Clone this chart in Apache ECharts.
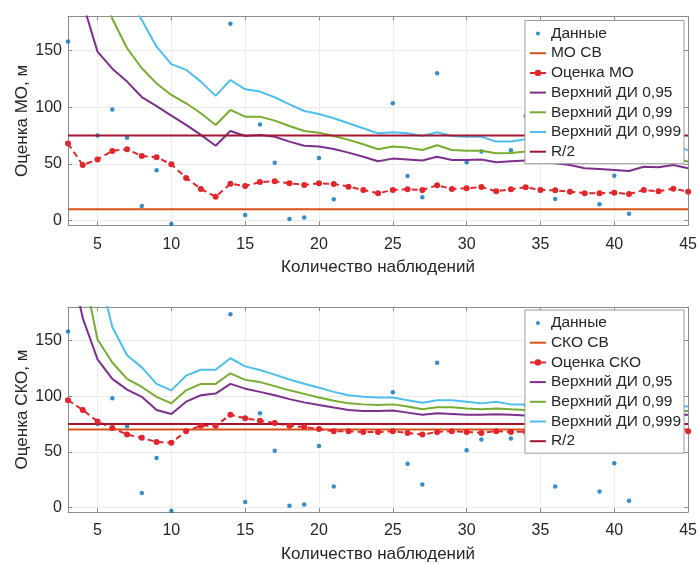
<!DOCTYPE html>
<html>
<head>
<meta charset="utf-8">
<script src="https://cdn.jsdelivr.net/npm/echarts@6/dist/echarts.min.js"></script>
<style>
  html, body { margin: 0; padding: 0; background: #fff; }
  #chart { width: 700px; height: 564px; }
</style>
</head>
<body>
<div id="chart"></div>
<script>
// number of observations (x)
const nObs = [3, 4, 5, 6, 7, 8, 9, 10, 11, 12, 13, 14, 15, 16, 17, 18, 19, 20, 21, 22, 23, 24,
  25, 26, 27, 28, 29, 30, 31, 32, 33, 34, 35, 36, 37, 38, 39, 40, 41, 42, 43, 44, 45];

// raw data points
const dataX = [3, 5, 6, 7, 8, 9, 10, 14, 15, 16, 17, 18, 19, 20, 21, 25, 26, 27, 28, 30, 31, 33, 34, 36, 39, 40, 41];
const dataY = [158, 75, 98, 73, 13, 44.4, -3, 173.5, 5, 84.7, 51, 1.5, 2.7, 55.3, 18.9, 103.5, 39.4, 20.6, 130,
  51.5, 61, 62, 92, 19, 14.4, 39.7, 6.2];

// constants
const moTrue = 10;
const skoTrue = 70;
const halfR = 75;

// top chart: mean estimate and upper confidence bounds
const moEst = [68, 49, 54, 61.5, 63, 57, 56, 49.7, 37.7, 28, 21, 32.6,
  30.6, 34, 34.7, 33, 31.5, 33, 32.4, 30, 27, 24.2, 27, 27.7, 27, 31.2, 28, 28.6,
  29.7, 25.9, 27.7, 29.4, 27, 26.8, 25.6, 24.2, 24.2, 24.7, 23.5, 27, 25.9, 28.2, 25.6];
const moCi95 = [250, 192, 149, 134, 122.6, 109, 101, 92.6, 84.4, 75.6, 66, 79,
  74.7, 75.6, 74, 69.7, 66, 65.3, 63.2, 60, 56.4, 52.4, 54.7, 54, 53, 56.4, 53.5, 53.5,
  54, 51.5, 52.4, 53, 52, 50.6, 49, 46.2, 45.6, 44.7, 43.8, 47.6, 47, 49, 46.2];
const moCi99 = [330, 270, 215, 178, 152, 134.4, 121, 110.8, 103.5, 94.7, 84.4, 97.6,
  91.7, 91.7, 88.2, 83.5, 79, 77.6, 74.7, 71.2, 67.4, 63, 65.3, 64.4, 62.3, 66.5, 62.3, 61.7,
  61.7, 59.4, 59.6, 60.9, 60, 58.6, 57, 54.2, 53.6, 52.7, 51, 55, 54.5, 56, 52];
const moCi999 = [420, 330, 260, 220, 196, 177, 153.4, 138, 133, 122.6, 110, 124,
  115.8, 113.8, 108.8, 102.6, 96.7, 94, 90.3, 85.9, 81.5, 77, 78, 77, 74.7, 78, 74.7, 74,
  74, 69.7, 69.7, 71.8, 70.5, 69, 67.5, 64.5, 64, 63, 62, 65.5, 65, 66.5, 62];

// bottom chart: std estimate and upper confidence bounds
const skoEst = [96.4, 87.6, 77.3, 71.4, 65.5, 62.6, 58.8, 58.2, 68.5, 73.5, 73.5, 83.2,
  80.2, 77.9, 75.8, 73.5, 72.3, 70.5, 68.5, 68.5, 67.9, 67.9, 68.5, 67, 65.5, 67.9, 68.5, 67.9,
  67, 68.5, 67.9, 68, 68.5, 68, 67.5, 67, 67.5, 68, 67.5, 68, 68.5, 68, 68.5];
const skoCi95 = [230, 170, 133, 115.5, 105.8, 99.4, 87.6, 84, 95, 100.8, 102.3, 111,
  106.7, 103.8, 100.8, 97.3, 94.4, 92, 89.7, 87.6, 86.7, 86.7, 87, 85.2, 83.2, 84.7, 84, 83.2,
  83.2, 83.8, 83.2, 82.6, 83, 83.5, 83, 82.5, 82.8, 83, 82.5, 83, 83.5, 83, 83.2];
const skoCi99 = [300, 215, 150.8, 130.2, 115.5, 108.2, 99.4, 93.5, 105.2, 111, 111, 120.5,
  114.6, 112.6, 109, 105.2, 102, 98.8, 95.8, 93.5, 92.6, 92, 92.6, 90.6, 88.2, 90, 90, 89,
  88.2, 89, 88.2, 87.6, 88, 88.3, 87.8, 87.2, 87.5, 87.5, 87, 87.5, 87.8, 87.2, 86.7];
const skoCi999 = [420, 290, 216, 162, 136.7, 125.8, 111, 105.2, 118.4, 123.7, 123.7, 134,
  126.7, 123.5, 119.3, 114.9, 111.1, 107.6, 103.8, 100.8, 99.4, 98.8, 98.8, 96.4, 94, 96.4, 96.4, 95,
  93.5, 95, 92.6, 92.6, 92.5, 93, 92.5, 91.8, 92, 92, 91.5, 92, 92, 91.2, 90.6];

const yTicks = [0, 50, 100, 150];

const txt = '#262626';
const axisCol = '#8c8c8c';
const gridCol = '#ececec';
const font = 'Liberation Sans';

const cData = '#0072BD', cTrue = '#D95319', cEst = '#E3262B',
  c95 = '#7E2F8E', c99 = '#77AC30', c999 = '#4DBEEE', cR = '#A2142F';

// legend icons: tiny dot and plain line (bounding box kept by the two moveTo points)
const dotIcon = 'path://M0,0M16,8M6,4a2,2 0 1,0 4,0a2,2 0 1,0 -4,0';
const lineIcon = 'path://M0,0M16,8M0,3L16,3L16,5L0,5Z';

const pair = (xs, ys) => xs.map((x, i) => [x, ys[i]]);
const xEnds = [nObs[0], nObs[nObs.length - 1]];

function xAx(gi, pos, withLabels) {
  return {
    type: 'value', gridIndex: gi, position: pos, min: 3, max: 45,
    minInterval: 5, maxInterval: 5,
    name: withLabels ? 'Количество наблюдений' : '',
    nameLocation: 'middle', nameGap: 34, nameMoveOverlap: false,
    nameTextStyle: { fontSize: 17, color: txt, fontFamily: font },
    axisLine: { show: true, onZero: false, lineStyle: { color: axisCol, width: 1 } },
    axisTick: { show: true, inside: true, length: 4, lineStyle: { color: axisCol } },
    axisLabel: { show: withLabels, fontSize: 16, color: txt, fontFamily: font, margin: 11, showMinLabel: false },
    splitLine: { show: withLabels, lineStyle: { color: gridCol } }
  };
}

function yAx(gi, pos, title) {
  return {
    type: 'value', gridIndex: gi, position: pos, min: -4, max: 180,
    minInterval: 50, maxInterval: 50,
    name: title || '', nameLocation: 'middle', nameGap: 37, nameMoveOverlap: false,
    nameTextStyle: { fontSize: 17, color: txt, fontFamily: font },
    axisLine: { show: true, onZero: false, lineStyle: { color: axisCol, width: 1 } },
    axisTick: { show: true, inside: true, length: 4, lineStyle: { color: axisCol } },
    axisLabel: {
      show: !!title, fontSize: 16, color: txt, fontFamily: font, margin: 6,
      showMinLabel: false, showMaxLabel: false,
      formatter: v => (yTicks.indexOf(v) >= 0 ? String(v) : '')
    },
    splitLine: { show: !!title, lineStyle: { color: gridCol } }
  };
}

function lineSeries(name, gi, color, data, extra) {
  return Object.assign({
    name: name, type: 'line', xAxisIndex: gi * 2, yAxisIndex: gi * 2,
    data: data, symbol: 'none', lineStyle: { color: color, width: 2 },
    itemStyle: { color: color }, animation: false, clip: true
  }, extra || {});
}

function panel(gi, trueName, trueVal, estName, est, ci95, ci99, ci999) {
  return [
    {
      name: 'Данные', type: 'scatter', xAxisIndex: gi * 2, yAxisIndex: gi * 2,
      data: pair(dataX, dataY), symbolSize: 4.5, itemStyle: { color: cData }, animation: false
    },
    lineSeries(trueName, gi, cTrue, pair(xEnds, [trueVal, trueVal])),
    lineSeries(estName, gi, cEst, pair(nObs, est), {
      symbol: 'circle', symbolSize: 6, showSymbol: true,
      lineStyle: { color: cEst, width: 2, type: [6, 4] }
    }),
    lineSeries('Верхний ДИ 0,95', gi, c95, pair(nObs, ci95)),
    lineSeries('Верхний ДИ 0,99', gi, c99, pair(nObs, ci99)),
    lineSeries('Верхний ДИ 0,999', gi, c999, pair(nObs, ci999)),
    lineSeries('R/2', gi, cR, pair(xEnds, [halfR, halfR]))
  ];
}

function legendFor(top, names, estName) {
  return {
    orient: 'vertical', right: 16, top: top,
    itemWidth: 16, itemHeight: 8, itemGap: 3.7,
    padding: [5, 3, 4, 4],
    backgroundColor: '#fff', borderColor: '#9a9a9a', borderWidth: 1,
    textStyle: { fontSize: 15.5, color: txt, fontFamily: font, lineHeight: 14 },
    data: names.map(n => {
      if (n === 'Данные') return { name: n, icon: dotIcon };
      if (n === estName) return n;
      return { name: n, icon: lineIcon };
    })
  };
}

const chart = echarts.init(document.getElementById('chart'));
chart.setOption({
  backgroundColor: '#fff',
  animation: false,
  textStyle: { fontFamily: font },
  grid: [
    { left: 68, top: 16.5, width: 621, height: 208.7 },
    { left: 68, top: 307, width: 621, height: 208.7 }
  ],
  xAxis: [xAx(0, 'bottom', true), xAx(0, 'top', false), xAx(1, 'bottom', true), xAx(1, 'top', false)],
  yAxis: [yAx(0, 'left', 'Оценка МО, м'), yAx(0, 'right'), yAx(1, 'left', 'Оценка СКО, м'), yAx(1, 'right')],
  legend: [
    legendFor(20.5, ['Данные', 'МО СВ', 'Оценка МО', 'Верхний ДИ 0,95', 'Верхний ДИ 0,99', 'Верхний ДИ 0,999', 'R/2'], 'Оценка МО'),
    legendFor(310, ['Данные', 'СКО СВ', 'Оценка СКО', 'Верхний ДИ 0,95', 'Верхний ДИ 0,99', 'Верхний ДИ 0,999', 'R/2'], 'Оценка СКО')
  ],
  series: panel(0, 'МО СВ', moTrue, 'Оценка МО', moEst, moCi95, moCi99, moCi999)
    .concat(panel(1, 'СКО СВ', skoTrue, 'Оценка СКО', skoEst, skoCi95, skoCi99, skoCi999))
});
</script>
</body>
</html>
